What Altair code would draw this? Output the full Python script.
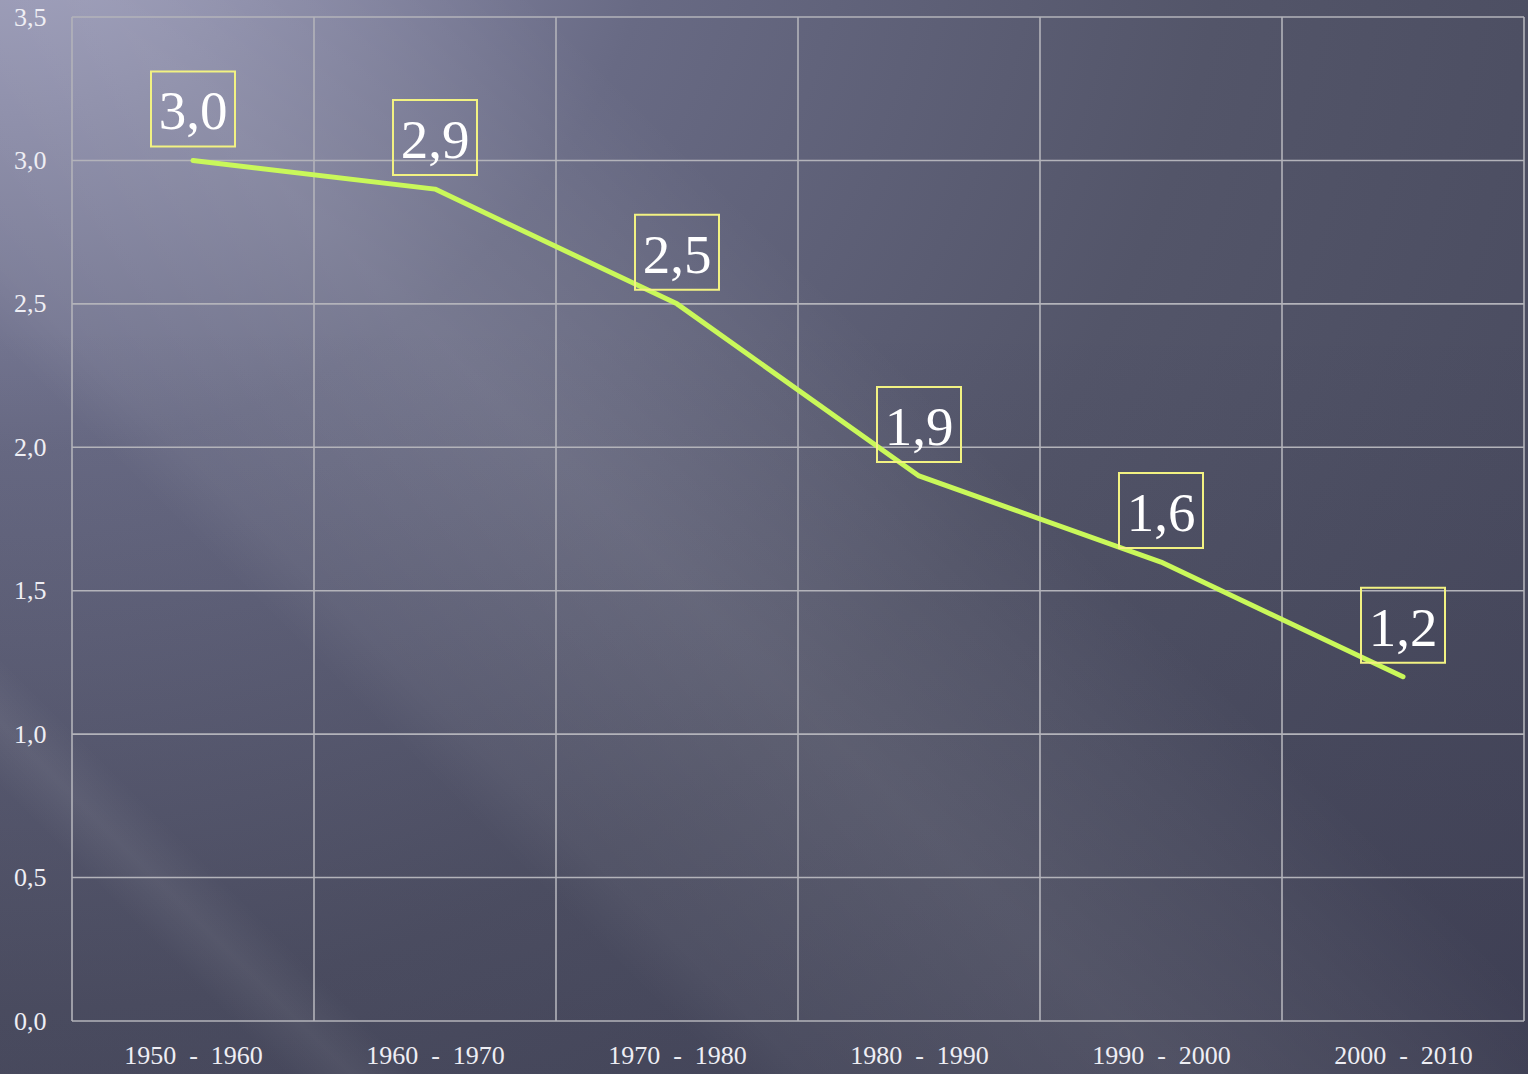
import altair as alt
import pandas as pd

periods = ["1950 - 1960", "1960 - 1970", "1970 - 1980", "1980 - 1990", "1990 - 2000", "2000 - 2010"]
values = [3.0, 2.9, 2.5, 1.9, 1.6, 1.2]
y_ticks = [0.0, 0.5, 1.0, 1.5, 2.0, 2.5, 3.0, 3.5]

W, H = 1452, 1004
PL, PT, PR, PB = 72, 17, 4, 53

NB = "\u00a0"
disp = [p.replace(" - ", NB + " -" + NB + " ") for p in periods]

df = pd.DataFrame({
    "i": list(range(len(periods))),
    "v": values,
    "lab": [f"{v:.1f}".replace(".", ",") for v in values],
})
xgrid = pd.DataFrame({"i": [k - 0.5 for k in range(len(periods) + 1)]})
ygrid = pd.DataFrame({"v": y_ticks})

label_arr = "[" + ",".join("'" + d + "'" for d in disp) + "]"

xscale = alt.Scale(domain=[-0.5, len(periods) - 0.5], nice=False, zero=False)
yscale = alt.Scale(domain=[0, 3.5], nice=False, zero=True)

FONT = "Liberation Serif"
xaxis = alt.Axis(values=list(range(len(periods))), labelExpr=label_arr + "[datum.value]",
                 grid=False, ticks=False, tickSize=0, domain=False, title=None,
                 labelFont=FONT, labelFontSize=26, labelColor="#eeeef4", labelPadding=21,
                 labelOverlap=False, zindex=1)
yaxis = alt.Axis(values=y_ticks, labelExpr="replace(format(datum.value, '.1f'), '.', ',')",
                 grid=False, ticks=False, tickSize=0, domain=False, title=None,
                 labelFont=FONT, labelFontSize=26, labelColor="#eeeef4", labelPadding=26,
                 labelBaseline="middle", zindex=1)

X = alt.X("i:Q", scale=xscale, axis=xaxis)
Y = alt.Y("v:Q", scale=yscale, axis=yaxis)

one = pd.DataFrame({"a": [0]})
bg_radial = {
    "gradient": "radial", "x1": 0, "y1": 0, "r1": 0, "x2": 0, "y2": 0, "r2": 1.35,
    "stops": [
        {"offset": 0.0, "color": "#a6a6c6"},
        {"offset": 0.33, "color": "#686a84"},
        {"offset": 0.6, "color": "#535569"},
        {"offset": 0.75, "color": "#4d4f63"},
        {"offset": 1.0, "color": "#44455a"},
    ],
}
bg_streak = {
    "gradient": "linear", "x1": 0, "y1": 1, "x2": 1.14, "y2": 0.2,
    "stops": [
        {"offset": 0.0, "color": "rgba(255,255,255,0)"},
        {"offset": 0.11, "color": "rgba(255,255,255,0)"},
        {"offset": 0.135, "color": "rgba(255,255,255,0.07)"},
        {"offset": 0.16, "color": "rgba(255,255,255,0)"},
        {"offset": 0.28, "color": "rgba(255,255,255,0)"},
        {"offset": 0.31, "color": "rgba(255,255,255,0.05)"},
        {"offset": 0.45, "color": "rgba(255,255,255,0.11)"},
        {"offset": 0.55, "color": "rgba(255,255,255,0.05)"},
        {"offset": 0.62, "color": "rgba(255,255,255,0)"},
        {"offset": 1.0, "color": "rgba(255,255,255,0)"},
    ],
}
bg_dark = {
    "gradient": "linear", "x1": 0, "y1": 0.3, "x2": 0, "y2": 1,
    "stops": [
        {"offset": 0.0, "color": "rgba(30,30,50,0)"},
        {"offset": 1.0, "color": "rgba(30,30,50,0.2)"},
    ],
}

def bg(fill):
    return alt.Chart(one).mark_rect(fill=fill, strokeWidth=0).encode(
        x=alt.value(-PL), x2=alt.value(W + PR), y=alt.value(-PT), y2=alt.value(H + PB)
    )

grid_color = "#b3b3ba"
hgrid = alt.Chart(ygrid).mark_rule(color=grid_color, strokeWidth=1.6).encode(y=Y)
vgrid = alt.Chart(xgrid).mark_rule(color=grid_color, strokeWidth=1.6).encode(x=X)

line = alt.Chart(df).mark_line(color="#c9f85a", strokeWidth=5, strokeCap="round",
                               strokeJoin="round").encode(x=X, y=Y)

boxes = alt.Chart(df).mark_point(shape="M-1.12,-1H1.12V1H-1.12Z", size=5625, filled=False,
                                 stroke="#f2f282", strokeWidth=2, opacity=1,
                                 yOffset=-51.5).encode(x=X, y=Y)

texts = alt.Chart(df).mark_text(font=FONT, fontSize=55, color="#ffffff", baseline="alphabetic",
                                align="center", dy=-31).encode(x=X, y=Y, text="lab:N")

chart = alt.layer(bg(bg_radial), bg(bg_streak), bg(bg_dark), hgrid, vgrid, line, boxes, texts).properties(
    width=W, height=H,
    autosize=alt.AutoSizeParams(type="none"),
    padding={"left": PL, "top": PT, "right": PR, "bottom": PB},
    background="#4f5064",
).configure_view(stroke=None)

chart.save("out.html", embed_options={"renderer": "svg", "actions": False})
